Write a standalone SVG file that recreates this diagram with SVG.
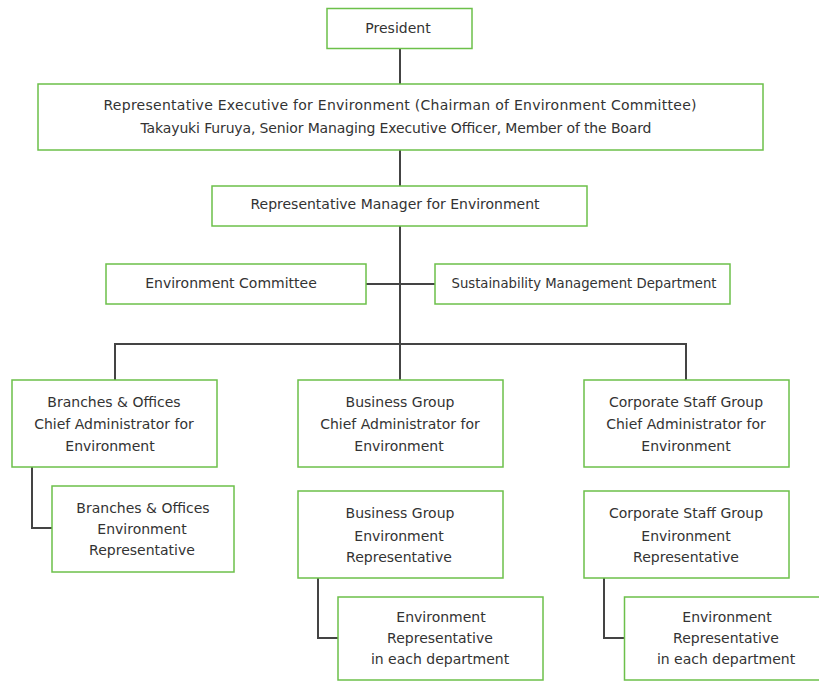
<svg xmlns="http://www.w3.org/2000/svg" width="819" height="682" viewBox="0 0 819 682">
<style>
.box{fill:#fff;stroke:#6cc04a;stroke-width:1.5}
.t{font-family:"DejaVu Sans","Verdana",sans-serif;font-size:14px;fill:#333;text-anchor:middle;dominant-baseline:central}
.ln{fill:none;stroke:#444;stroke-width:2}
</style>
<rect width="819" height="682" fill="#fff"/>
<g id="connectors">
<path class="ln" d="M400,48V344"/>
<path class="ln" d="M366,284H435"/>
<path class="ln" d="M115,380V344H686V380M400,344V380"/>
<path class="ln" d="M32,466V528H52"/>
<path class="ln" d="M318,578V638H338"/>
<path class="ln" d="M604,578V638H624"/>
</g>
<g id="president"><rect class="box" x="327" y="8.5" width="145" height="40"/><text class="t" x="398" y="28">President</text></g>
<g id="rep-exec"><rect class="box" x="38" y="84" width="725" height="66"/>
<text class="t" x="400" y="105" textLength="593" lengthAdjust="spacing">Representative Executive for Environment (Chairman of  Environment Committee)</text>
<text class="t" x="396" y="128" textLength="511" lengthAdjust="spacing">Takayuki Furuya, Senior Managing Executive Officer, Member of the Board</text></g>
<g id="rep-manager"><rect class="box" x="212" y="186" width="375" height="40"/><text class="t" x="395" y="204">Representative Manager for Environment</text></g>
<g id="env-committee"><rect class="box" x="106" y="264" width="260" height="40"/><text class="t" x="231" y="283">Environment Committee</text></g>
<g id="sustainability"><rect class="box" x="435" y="264" width="295" height="40"/><text class="t" x="584" y="283" textLength="265" lengthAdjust="spacingAndGlyphs">Sustainability Management Department</text></g>
<g id="branches-chief"><rect class="box" x="12" y="380" width="205" height="87"/>
<text class="t" x="114" y="402">Branches &amp; Offices</text><text class="t" x="114" y="424">Chief Administrator for</text><text class="t" x="110" y="446">Environment</text></g>
<g id="business-chief"><rect class="box" x="298" y="380" width="205" height="87"/>
<text class="t" x="400" y="402">Business Group</text><text class="t" x="400" y="424">Chief Administrator for</text><text class="t" x="399" y="446">Environment</text></g>
<g id="corporate-chief"><rect class="box" x="584" y="380" width="205" height="87"/>
<text class="t" x="686" y="402">Corporate Staff Group</text><text class="t" x="686" y="424">Chief Administrator for</text><text class="t" x="686" y="446">Environment</text></g>
<g id="branches-rep"><rect class="box" x="52" y="486" width="182" height="86"/>
<text class="t" x="143" y="508">Branches &amp; Offices</text><text class="t" x="142" y="529">Environment</text><text class="t" x="142" y="550">Representative</text></g>
<g id="business-rep"><rect class="box" x="298" y="491" width="205" height="87"/>
<text class="t" x="400" y="513">Business Group</text><text class="t" x="399" y="536">Environment</text><text class="t" x="399" y="557">Representative</text></g>
<g id="corporate-rep"><rect class="box" x="584" y="491" width="205" height="87"/>
<text class="t" x="686" y="513">Corporate Staff Group</text><text class="t" x="686" y="536">Environment</text><text class="t" x="686" y="557">Representative</text></g>
<g id="business-dept"><rect class="box" x="338" y="597" width="205" height="83"/>
<text class="t" x="441" y="617">Environment</text><text class="t" x="440" y="638">Representative</text><text class="t" x="440" y="659">in each department</text></g>
<g id="corporate-dept"><rect class="box" x="624.5" y="597" width="210" height="83"/>
<text class="t" x="727" y="617">Environment</text><text class="t" x="726" y="638">Representative</text><text class="t" x="726" y="659">in each department</text></g>
</svg>
